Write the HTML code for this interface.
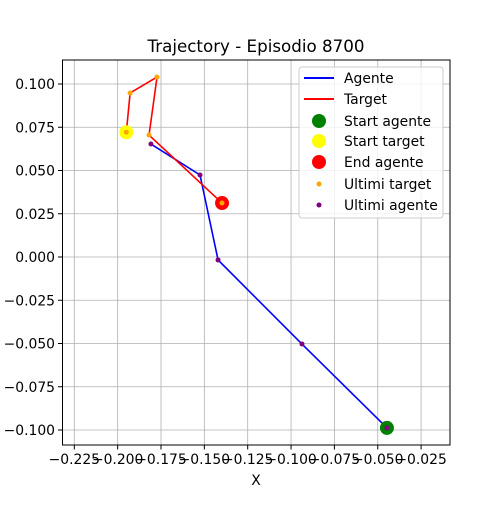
<!DOCTYPE html>
<html><head><meta charset="utf-8"><style>
body{margin:0;background:#fff}
svg{font-family:"DejaVu Sans","Liberation Sans",sans-serif}
</style></head><body>
<svg id="chart" width="500" height="500" xmlns="http://www.w3.org/2000/svg">
<rect width="500" height="500" fill="#fff"/>
<text x="256" y="52" font-size="16.7" text-anchor="middle">Trajectory - Episodio 8700</text>
<g id="grid"></g>
<g id="marks"></g>
<rect x="62.5" y="60" width="387.5" height="385" fill="none" stroke="#000" stroke-width="1"/>
<g id="ticks"></g>
<text x="256" y="485" font-size="13.9" text-anchor="middle">X</text>
<g>
<rect x="299" y="67" width="144" height="151" rx="3" fill="#fff" fill-opacity="0.8" stroke="#ccc"/>
<line x1="304" y1="78" x2="334" y2="78" stroke="blue" stroke-width="2"/>
<text x="344" y="83" font-size="13.9">Agente</text>
<line x1="304" y1="99" x2="334" y2="99" stroke="red" stroke-width="2"/>
<text x="344" y="104" font-size="13.9">Target</text>
<circle cx="319" cy="121" r="7" fill="green"/>
<text x="344" y="126" font-size="13.9">Start agente</text>
<circle cx="319" cy="141" r="7" fill="yellow"/>
<text x="344" y="146" font-size="13.9">Start target</text>
<circle cx="319" cy="162" r="7" fill="red"/>
<text x="344" y="167" font-size="13.9">End agente</text>
<circle cx="319" cy="184" r="2.5" fill="orange"/>
<text x="344" y="189" font-size="13.9">Ultimi target</text>
<circle cx="319" cy="205" r="2.5" fill="purple"/>
<text x="344" y="210" font-size="13.9">Ultimi agente</text>
</g>
</svg>
<script>
const agentX=[-0.0447,-0.0937,-0.1421,-0.1525,-0.1808];
const agentY=[-0.0988,-0.0503,-0.0017,0.0474,0.0653];
const targetX=[-0.1950,-0.1928,-0.1773,-0.1819,-0.1398];
const targetY=[0.0721,0.0948,0.1040,0.0705,0.0312];
const xTicks=[-0.225,-0.200,-0.175,-0.150,-0.125,-0.100,-0.075,-0.050,-0.025];
const yTicks=[-0.100,-0.075,-0.050,-0.025,0.000,0.025,0.050,0.075,0.100];
const NS="http://www.w3.org/2000/svg";
const sx=v=>74.3+(v+0.225)/0.025*43.35;
const sy=v=>257-v/0.025*43.25;
function mk(tag,attrs,parent){const e=document.createElementNS(NS,tag);for(const k in attrs)e.setAttribute(k,attrs[k]);document.getElementById(parent).appendChild(e);return e;}
xTicks.forEach(t=>{
  const x=sx(t);
  const g=mk('line',{x1:x,y1:60,x2:x,y2:445,stroke:'#b0b0b0','stroke-width':0.8},'grid');
  
  
  mk('line',{x1:x,y1:445,x2:x,y2:449.5,stroke:'#000'},'ticks');
  const l=mk('text',{x:x,y:464,'font-size':13.9,'text-anchor':'middle'},'ticks');
  l.textContent=t.toFixed(3).replace('-','\u2212');
  
  
});
yTicks.forEach(t=>{
  const y=sy(t);
  const g=mk('line',{x1:62.5,y1:y,x2:450,y2:y,stroke:'#b0b0b0','stroke-width':0.8},'grid');
  
  
  mk('line',{x1:58,y1:y,x2:62.5,y2:y,stroke:'#000'},'ticks');
  const l=mk('text',{x:55,y:y+5,'font-size':13.9,'text-anchor':'end'},'ticks');
  l.textContent=t.toFixed(3).replace('-','\u2212');
  
  
});
const ap=mk('polyline',{points:agentX.map((v,i)=>sx(v)+','+sy(agentY[i])).join(' '),fill:'none',stroke:'blue','stroke-width':1.6},'marks');


const tp=mk('polyline',{points:targetX.map((v,i)=>sx(v)+','+sy(targetY[i])).join(' '),fill:'none',stroke:'red','stroke-width':1.6},'marks');


const s1=mk('circle',{cx:sx(agentX[0]),cy:sy(agentY[0]),r:7,fill:'green'},'marks');


const s2=mk('circle',{cx:sx(targetX[0]),cy:sy(targetY[0]),r:7,fill:'yellow'},'marks');


const e1=mk('circle',{cx:sx(targetX[4]),cy:sy(targetY[4]),r:7,fill:'red'},'marks');


targetX.forEach((v,i)=>{
  const c=mk('circle',{cx:sx(v),cy:sy(targetY[i]),r:2.5,fill:'orange'},'marks');
  
  
});
agentX.forEach((v,i)=>{
  const c=mk('circle',{cx:sx(v),cy:sy(agentY[i]),r:2.5,fill:'purple'},'marks');
  
  
});
</script>
</body></html>
